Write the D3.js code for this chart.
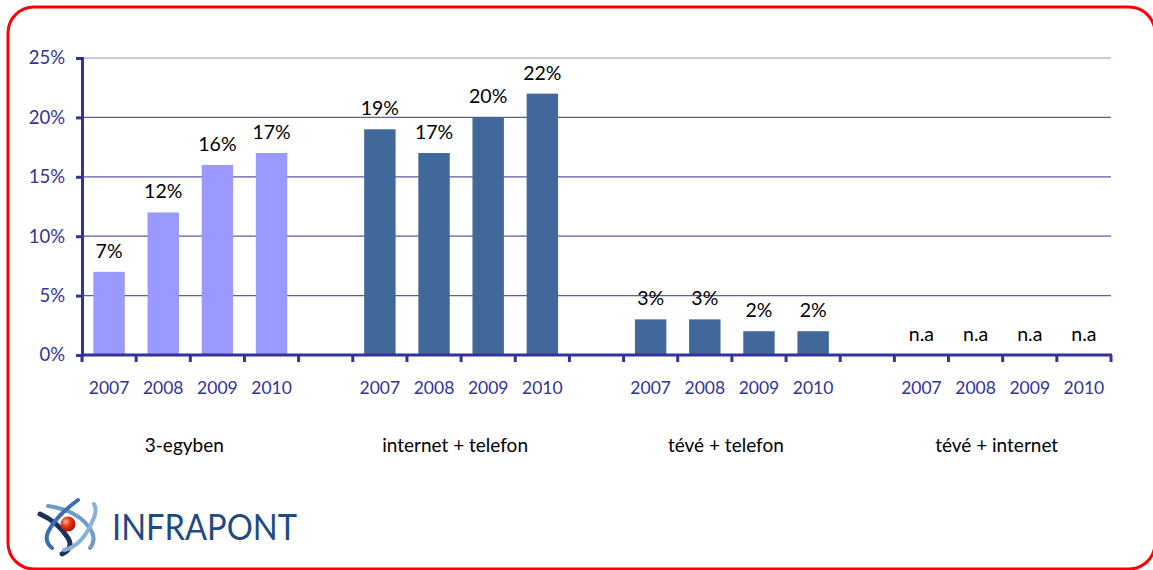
<!DOCTYPE html>
<html>
<head>
<meta charset="utf-8">
<script src="https://cdn.jsdelivr.net/npm/d3@7"></script>
<style>
  body { margin: 0; background: #fff; }
  svg { display: block; font-family: Lato, "Open Sans", sans-serif; }
</style>
</head>
<body>
<div id="chart"></div>
<script>
// data
const groups = ["3-egyben", "internet + telefon", "tévé + telefon", "tévé + internet"];
const years = ["2007", "2008", "2009", "2010"];
const values3in1 = [7, 12, 16, 17];
const valuesNetPhone = [19, 17, 20, 22];
const valuesTvPhone = [3, 3, 2, 2];
const valuesTvNet = [null, null, null, null];   // n.a
const yTicks = [0, 5, 10, 15, 20, 25];
const groupColors = ["#9999ff", "#40689a", "#40689a", "#40689a"];

const allValues = [values3in1, valuesNetPhone, valuesTvPhone, valuesTvNet];

var width = 1153, height = 570;
var margin = {top: 58, left: 82, right: 42, bottom: 215};

var svg = d3.select("#chart").append("svg")
    .attr("width", width)
    .attr("height", height);

// red frame
svg.append("rect")
    .attr("x", 8).attr("y", 7)
    .attr("width", 1147).attr("height", 562)
    .attr("rx", 26).attr("ry", 26)
    .attr("fill", "none")
    .attr("stroke", "#ff0000")
    .attr("stroke-width", 3);

// slots: 4 years per group, one empty slot between groups
var slots = [];
var bars = [];
groups.forEach(function(g, gi) {
    years.forEach(function(yr, yi) {
        var key = g + "|" + yr;
        slots.push(key);
        bars.push({group: g, gi: gi, year: yr, key: key, value: allValues[gi][yi]});
    });
    if (gi < groups.length - 1) slots.push("gap" + gi);
});

var x = d3.scaleBand()
    .domain(slots)
    .range([margin.left, width - margin.right])
    .paddingInner(0.42)
    .paddingOuter(0.21);

var y = d3.scaleLinear()
    .domain([0, 25])
    .range([height - margin.bottom, margin.top]);

var axisColor = "#333399";

// gridlines
svg.append("g")
    .selectAll("line")
    .data(yTicks.filter(d => d > 0))
    .join("line")
    .attr("x1", margin.left).attr("x2", width - margin.right)
    .attr("y1", d => y(d)).attr("y2", d => y(d))
    .attr("stroke", d => d == 25 ? "#9a9acb" : "#5b5ba8")
    .attr("stroke-width", 1.2);

// bars
svg.append("g")
    .selectAll("rect")
    .data(bars.filter(d => d.value !== null))
    .join("rect")
    .attr("x", d => x(d.key))
    .attr("width", x.bandwidth())
    .attr("y", d => y(d.value))
    .attr("height", d => y(0) - y(d.value))
    .attr("fill", d => groupColors[d.gi]);

// value labels
svg.append("g")
    .selectAll("text")
    .data(bars)
    .join("text")
    .attr("x", d => x(d.key) + x.bandwidth() / 2)
    .attr("y", d => y(d.value === null ? 0 : d.value) - 14)
    .attr("text-anchor", "middle")
    .attr("font-size", "19.5px")
    .attr("fill", "#000")
    .text(d => d.value === null ? "n.a" : d.value + "%");

// y axis
var yAxis = d3.axisLeft(y)
    .tickValues(yTicks)
    .tickFormat(d => d + "%")
    .tickSize(6)
    .tickPadding(11);

var gy = svg.append("g")
    .attr("transform", "translate(" + margin.left + ",0)")
    .call(yAxis);
gy.select(".domain").attr("stroke", axisColor).attr("stroke-width", 3);
gy.selectAll(".tick line").attr("stroke", axisColor).attr("stroke-width", 3);
gy.selectAll(".tick text")
    .attr("fill", axisColor)
    .attr("font-size", "18.5px")
    .attr("font-family", "Lato, sans-serif");

// x axis line + ticks at slot boundaries
var x0 = margin.left, x1 = width - margin.right;
svg.append("line")
    .attr("x1", x0 - 1).attr("x2", x1 + 1)
    .attr("y1", y(0)).attr("y2", y(0))
    .attr("stroke", axisColor).attr("stroke-width", 3);

var step = x.step();
svg.append("g")
    .selectAll("line")
    .data(d3.range(slots.length + 1))
    .join("line")
    .attr("x1", i => x0 + i * step).attr("x2", i => x0 + i * step)
    .attr("y1", y(0)).attr("y2", y(0) + 7)
    .attr("stroke", axisColor).attr("stroke-width", 3);

// year labels
svg.append("g")
    .selectAll("text")
    .data(bars)
    .join("text")
    .attr("x", d => x(d.key) + x.bandwidth() / 2)
    .attr("y", y(0) + 39)
    .attr("text-anchor", "middle")
    .attr("font-size", "17.5px")
    .attr("fill", axisColor)
    .text(d => d.year);

// group labels
svg.append("g")
    .selectAll("text")
    .data(groups)
    .join("text")
    .attr("x", function(g) {
        var first = x(g + "|" + years[0]);
        var last = x(g + "|" + years[years.length - 1]) + x.bandwidth();
        return (first + last) / 2 - 6;
    })
    .attr("y", y(0) + 97)
    .attr("text-anchor", "middle")
    .attr("font-size", "19px")
    .attr("fill", "#000")
    .text(g => g);

// INFRAPONT logo
var logo = svg.append("g").attr("transform", "translate(68,524)");
var defs = svg.append("defs");
var grad = defs.append("radialGradient").attr("id", "ball")
    .attr("cx", "35%").attr("cy", "35%").attr("r", "65%");
grad.append("stop").attr("offset", "0%").attr("stop-color", "#ffb08a");
grad.append("stop").attr("offset", "45%").attr("stop-color", "#f03a1a");
grad.append("stop").attr("offset", "100%").attr("stop-color", "#b01000");

logo.append("path")
    .attr("d", "M-28,-10 Q-10,-2 0,14 Q6,24 -6,30")
    .attr("fill", "none").attr("stroke", "#1c3160").attr("stroke-width", 5)
    .attr("stroke-linecap", "round");
logo.append("path")
    .attr("d", "M-20,-18 Q8,-14 20,2 Q30,14 22,24")
    .attr("fill", "none").attr("stroke", "#6f9cc6").attr("stroke-width", 4)
    .attr("stroke-linecap", "round");
logo.append("path")
    .attr("d", "M10,-24 Q-12,-8 -20,8 Q-24,18 -16,24")
    .attr("fill", "none").attr("stroke", "#3a6eb0").attr("stroke-width", 4)
    .attr("stroke-linecap", "round");
logo.append("path")
    .attr("d", "M-4,26 Q14,22 24,-2 Q30,-14 26,-20")
    .attr("fill", "none").attr("stroke", "#89b0d6").attr("stroke-width", 4)
    .attr("stroke-linecap", "round");
logo.append("circle")
    .attr("r", 7.5)
    .attr("fill", "url(#ball)");

svg.append("text")
    .attr("x", 112)
    .attr("y", 540)
    .attr("font-size", "37px")
    .attr("font-weight", 400)
    .attr("fill", "#1f4b80")
    .attr("textLength", 185)
    .attr("lengthAdjust", "spacingAndGlyphs")
    .text("INFRAPONT");
</script>
</body>
</html>
